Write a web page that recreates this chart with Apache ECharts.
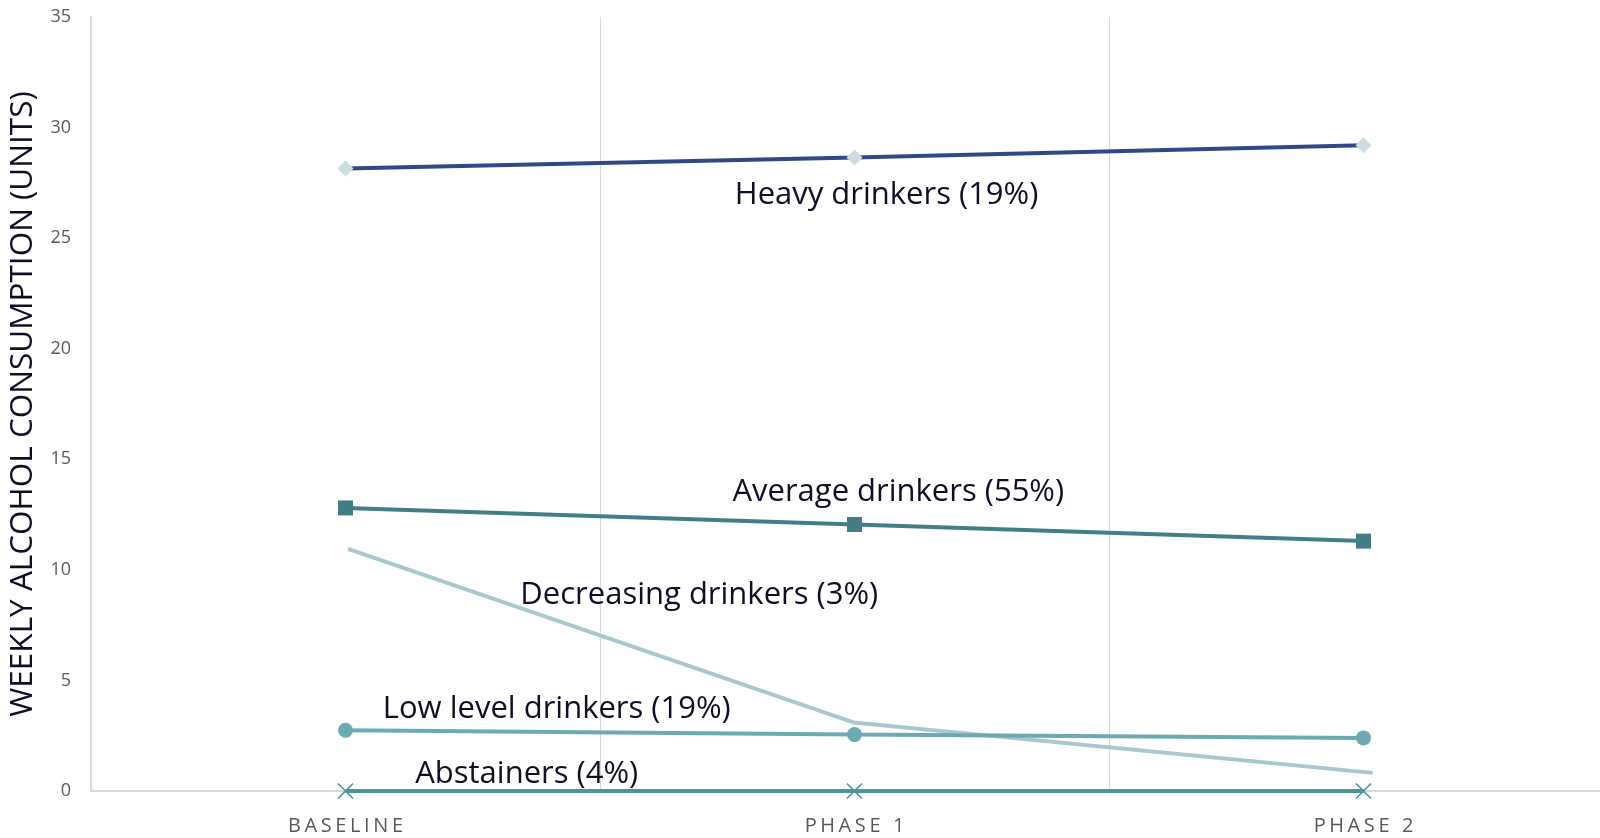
<!DOCTYPE html>
<html>
<head>
<meta charset="utf-8">
<script src="https://cdn.jsdelivr.net/npm/echarts@6/dist/echarts.min.js"></script>
<style>
html,body{margin:0;padding:0;background:#fff;}
#chart{width:1600px;height:838px;}
</style>
</head>
<body>
<div id="chart"></div>
<script>
// ---- Data ----
const categories = ['BASELINE', 'PHASE 1', 'PHASE 2'];
const yTicks = [0, 5, 10, 15, 20, 25, 30, 35];
const heavy = [28.15, 28.65, 29.2];
const average = [12.8, 12.05, 11.3];
const low = [2.75, 2.55, 2.4];
const abstainers = [0, 0, 0];
// decreasing drinkers drawn on a continuous x scale (category k centred at k+0.5)
const decreasingX = [0.505, 1.498, 2.518];
const decreasingY = [10.95, 3.1, 0.82];
const labelNames = ['Heavy drinkers (19%)', 'Average drinkers (55%)', 'Decreasing drinkers (3%)', 'Low level drinkers (19%)', 'Abstainers (4%)'];
const labelAnchorX = [1.563, 1.586, 1.195, 0.915, 0.856];
const labelAnchorY = [26.95, 13.5, 8.85, 3.7, 0.78];

const FONT = "'Open Sans', 'Noto Sans', sans-serif";
const chart = echarts.init(document.getElementById('chart'));

const option = {
  backgroundColor: '#ffffff',
  animation: false,
  grid: { left: 91, width: 1527, top: 17, bottom: 47, containLabel: false, outerBoundsMode: 'none' },
  xAxis: [
    {
      type: 'category',
      data: categories,
      boundaryGap: true,
      axisLine: { show: true, lineStyle: { color: '#d9d9d9', width: 2 } },
      axisTick: { show: false },
      axisLabel: {
        color: '#595959', fontSize: 20, fontFamily: FONT, margin: 25,
        formatter: v => v.split('').map(c => '{s|' + c + '}').join(''),
        rich: { s: { color: '#595959', fontSize: 20, fontFamily: FONT, padding: [0, 1.8, 0, 1.8] } }
      },
      splitLine: { show: true, lineStyle: { color: '#d9d9d9', width: 1 } }
    },
    {
      type: 'value',
      min: 0, max: 3,
      show: false,
      splitLine: { show: false }
    }
  ],
  yAxis: {
    type: 'value',
    min: yTicks[0], max: yTicks[yTicks.length - 1], interval: 5,
    name: 'WEEKLY ALCOHOL CONSUMPTION (UNITS)',
    nameLocation: 'middle',
    nameGap: 44,
    nameTextStyle: { color: '#0e0e26', fontSize: 31.5, fontFamily: FONT },
    axisLine: { show: true, lineStyle: { color: '#d9d9d9', width: 2 } },
    axisTick: { show: false },
    axisLabel: { color: '#595959', fontSize: 18, fontFamily: FONT, margin: 20 },
    splitLine: { show: false }
  },
  series: [
    {
      name: 'Decreasing drinkers (3%)',
      type: 'line',
      xAxisIndex: 1,
      data: decreasingX.map((x, i) => [x, decreasingY[i]]),
      showSymbol: false,
      symbol: 'none',
      lineStyle: { color: '#a9c8ce', width: 4 },
      z: 2
    },
    {
      name: 'Heavy drinkers (19%)',
      type: 'line',
      data: heavy,
      symbol: 'diamond',
      symbolSize: 16,
      lineStyle: { color: '#2e4a82', width: 4 },
      itemStyle: { color: '#cfdde2' },
      z: 3
    },
    {
      name: 'Average drinkers (55%)',
      type: 'line',
      data: average,
      symbol: 'rect',
      symbolSize: 15,
      lineStyle: { color: '#437d85', width: 4 },
      itemStyle: { color: '#437d85' },
      z: 3
    },
    {
      name: 'Low level drinkers (19%)',
      type: 'line',
      data: low,
      symbol: 'circle',
      symbolSize: 15,
      lineStyle: { color: '#6caab3', width: 4 },
      itemStyle: { color: '#6caab3' },
      z: 3
    },
    {
      name: 'Abstainers (4%)',
      type: 'line',
      data: abstainers,
      symbol: 'path://M0,0L10,10M10,0L0,10',
      symbolSize: 15,
      lineStyle: { color: '#4f939c', width: 4 },
      itemStyle: { color: 'rgba(0,0,0,0)', borderColor: '#4f939c', borderWidth: 1.6 },
      z: 3
    },
    {
      name: 'labels',
      type: 'scatter',
      xAxisIndex: 1,
      symbolSize: 0,
      silent: true,
      itemStyle: { opacity: 1 },
      data: labelNames.map((n, i) => ({ name: n, value: [labelAnchorX[i], labelAnchorY[i]] })),
      label: {
        show: true,
        position: 'inside',
        formatter: p => p.name,
        color: '#0e0e26',
        opacity: 1,
        fontSize: 31,
        fontFamily: FONT,
        textBorderWidth: 0,
        textShadowBlur: 0
      },
      z: 5
    }
  ]
};
chart.setOption(option);
</script>
</body>
</html>
